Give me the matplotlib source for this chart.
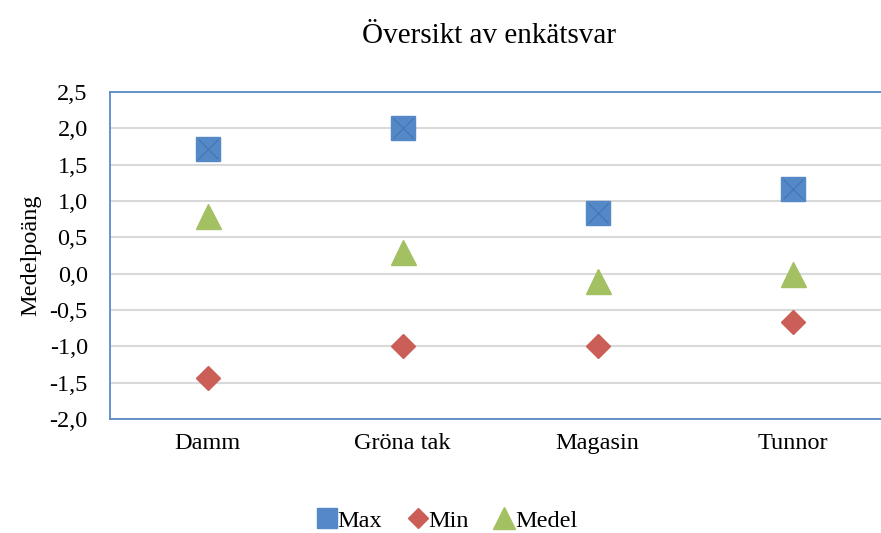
import matplotlib
matplotlib.use("Agg")
import matplotlib.pyplot as plt
from matplotlib.ticker import FuncFormatter

categories = ["Damm", "Gröna tak", "Magasin", "Tunnor"]
max_vals = [1.71, 2.0, 0.83, 1.17]
min_vals = [-1.43, -1.0, -1.0, -0.67]
medel_vals = [0.80, 0.30, -0.10, 0.0]

BLUE = "#5588C6"
RED = "#CC5E58"
GREEN = "#A3C163"

plt.rcParams["font.family"] = ["Liberation Serif", "DejaVu Serif"]

fig = plt.figure(figsize=(8.81, 5.33), dpi=100)
# axes runs past the right edge of the figure, like the original
ax = fig.add_axes([110 / 881, (533 - 419) / 533, 780 / 881, 327 / 533])

x = [i + 0.5 for i in range(len(categories))]
ax.plot(x, max_vals, "s", ms=17, color=BLUE, mec=BLUE, label="Max", zorder=3)
ax.plot(x, max_vals, "x", ms=15, mew=0.7, color="#3F72B0", zorder=4)
ax.plot(x, min_vals, "D", ms=12.5, color=RED, mec=RED, label="Min", zorder=3)
ax.plot(x, medel_vals, "^", ms=18, color=GREEN, mec=GREEN, label="Medel", zorder=3)

ax.set_xlim(0, 4)
ax.set_ylim(-2.0, 2.5)
ax.set_yticks([-2.0 + 0.5 * i for i in range(10)])
ax.yaxis.set_major_formatter(FuncFormatter(lambda v, p: f"{v:.1f}".replace(".", ",")))
ax.set_xticks(x)
ax.set_xticklabels(categories)
ax.tick_params(axis="both", length=0, labelsize=17.5)
ax.tick_params(axis="x", pad=10)
ax.tick_params(axis="y", pad=16)

ax.grid(axis="y", color="#D9D9D9", linewidth=1.5, zorder=0)
ax.set_axisbelow(True)
for side in ["left", "top", "bottom"]:
    ax.spines[side].set_color("#5B8BC7")
    ax.spines[side].set_linewidth(1.3)
ax.spines["right"].set_visible(False)

ax.set_ylabel("Medelpoäng", fontsize=17.5, labelpad=6)
fig.text(0.555, 0.933, "Översikt av enkätsvar", ha="center", va="center", fontsize=21)

handles, labels = ax.get_legend_handles_labels()
fig.legend(handles, labels, loc="center", bbox_to_anchor=(0.507, 0.023), ncol=3,
           frameon=False, fontsize=17.5, handletextpad=0.0, columnspacing=1.0,
           handlelength=0.9, markerscale=0.85)

fig.savefig("out.png", dpi=100)
